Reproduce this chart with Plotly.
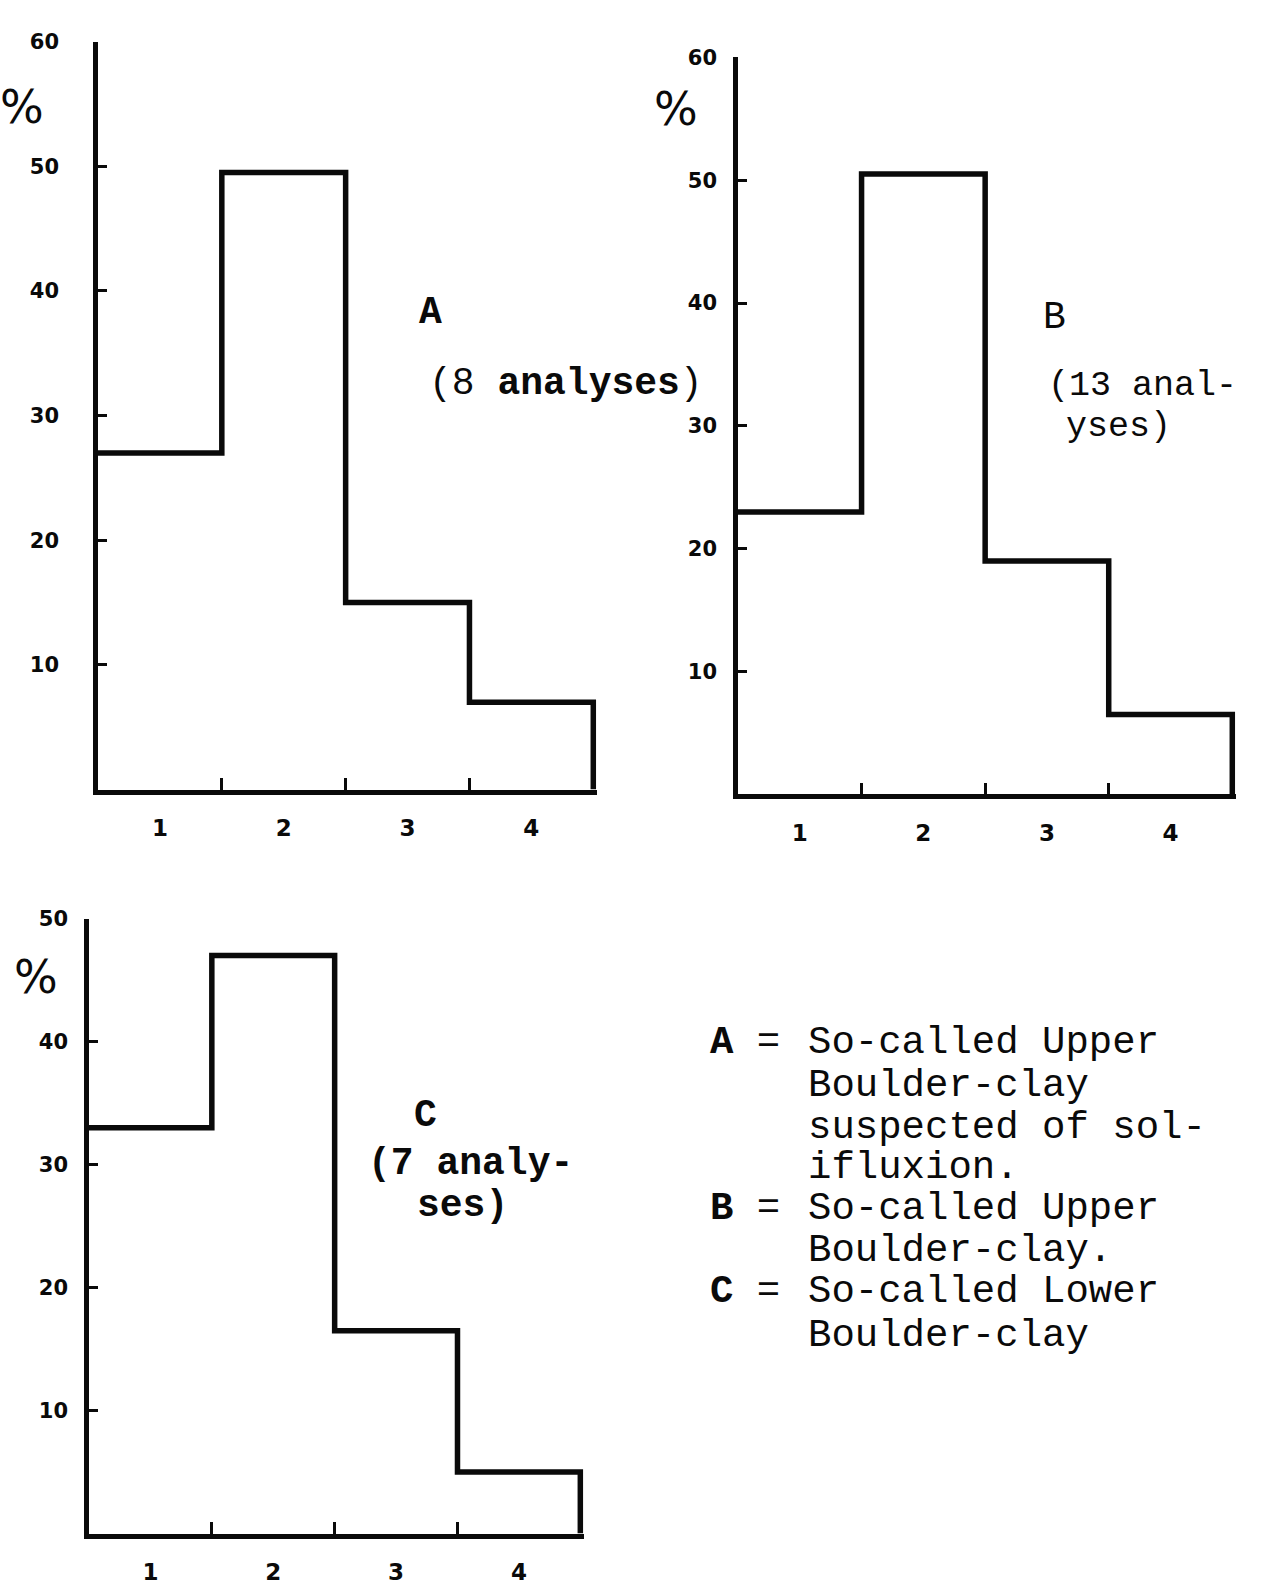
import plotly.graph_objects as go

W, H = 1282, 1585

# Size-class bins and their labels
bins = [1, 2, 3, 4]
bin_labels = ["1", "2", "3", "4"]

# Percentage of each size class per group
pct_a = [27, 49.5, 15, 7]
pct_b = [23, 50.5, 19, 6.5]
pct_c = [33, 47, 16.5, 5]

# Y-axis tick values per panel
yticks_ab = [10, 20, 30, 40, 50, 60]
yticks_c = [10, 20, 30, 40, 50]

# Key text
key_rows = [
    ("A", "So-called Upper"),
    (None, "Boulder-clay"),
    (None, "suspected of sol-"),
    (None, "ifluxion."),
    ("B", "So-called Upper"),
    (None, "Boulder-clay."),
    ("C", "So-called Lower"),
    (None, "Boulder-clay"),
]

INK = "#0a0a0a"
HAND = "DejaVu Sans"
TYPE = "Liberation Mono"


def px(x, y):
    """Pixel position on the page -> paper coordinates."""
    return x / W, 1 - y / H


def step_xy(cats, vals):
    """Outline of a histogram drawn as a stepped line."""
    xs = [c - 0.5 for c in cats] + [cats[-1] + 0.5, cats[-1] + 0.5]
    ys = list(vals) + [vals[-1], 0]
    return xs, ys


fig = go.Figure()

panels = [
    # (suffix, values, yticks, ymax, left, right, top, bottom)
    ("", pct_a, yticks_ab, 60, 98, 597, 30, 789),
    ("2", pct_b, yticks_ab, 60, 738, 1236, 46, 794),
    ("3", pct_c, yticks_c, 50, 89, 584, 920, 1544),
]

for suf, vals, yt, ymax, left, right, top, bottom in panels:
    xs, ys = step_xy(bins, vals)
    fig.add_trace(go.Scatter(
        x=xs, y=ys, mode="lines", line_shape="hv",
        line=dict(color=INK, width=5.5), cliponaxis=False,
        xaxis="x" + suf, yaxis="y" + suf, showlegend=False,
        hoverinfo="skip",
    ))
    x0, y1 = px(left, top)
    x1, y0 = px(right, bottom)
    fig.layout["xaxis" + suf] = dict(
        # a little room past the last bin so its right edge is not clipped
        domain=[x0, x1], range=[0.5, 4.53], anchor="y" + suf,
        showgrid=False, zeroline=False, showline=True,
        linecolor=INK, linewidth=4.5,
        tickmode="array", tickvals=bins, ticktext=bin_labels,
        ticks="", ticklabelstandoff=14,
        tickfont=dict(family=HAND, size=23, color=INK, weight="bold"),
        minor=dict(tickvals=[b + 0.5 for b in bins[:-1]], ticks="inside",
                   ticklen=12, tickwidth=3, tickcolor=INK),
        fixedrange=True,
    )
    fig.layout["yaxis" + suf] = dict(
        domain=[y0, y1], range=[0, ymax], anchor="x" + suf,
        showgrid=False, zeroline=False, showline=True,
        linecolor=INK, linewidth=4.5,
        tickmode="array", tickvals=yt,
        ticks="inside", ticklen=9, tickwidth=3, tickcolor=INK,
        ticklabelstandoff=30 if suf == "" else 12,
        tickfont=dict(family=HAND, size=21, color=INK, weight="bold"),
        fixedrange=True,
    )

annotations = []


def label(x, y, text, size=40, family=TYPE, xanchor="center"):
    ax, ay = px(x, y)
    annotations.append(dict(
        x=ax, y=ay, xref="paper", yref="paper", text=text,
        showarrow=False, xanchor=xanchor, yanchor="middle",
        font=dict(family=family, size=size, color=INK),
    ))


# Percent signs on the y axes
label(22, 96, "%", size=46, family=HAND)
label(676, 98, "%", size=46, family=HAND)
label(36, 979, "%", size=46, family=HAND)

# Panel captions
label(430, 305, "<b>A</b>", size=38)
label(566, 377, "(8 <b>analyses</b>)", size=38)
label(1054, 310, "B", size=38)
label(1046, 379, "(13 anal-", size=35, xanchor="left")
label(1064, 421, "yses)", size=35, xanchor="left")
label(425, 1120, "<b>C</b>", size=38)
label(366, 1168, "<b>(7 analy-</b>", size=38, xanchor="left")
label(415, 1211, "<b>ses)</b>", size=38, xanchor="left")

# Key
row_y = [1046, 1090, 1132, 1173, 1215, 1257, 1299, 1343]
for (tag, text), y in zip(key_rows, row_y):
    if tag:
        label(708, y, f"<b>{tag}</b> = ", size=39, xanchor="left")
    label(806, y, text, size=39, xanchor="left")

fig.update_layout(
    width=W, height=H,
    margin=dict(l=0, r=0, t=0, b=0),
    paper_bgcolor="white", plot_bgcolor="white",
    annotations=annotations,
    showlegend=False,
)

fig.write_html("out.html", config={"displayModeBar": False})
